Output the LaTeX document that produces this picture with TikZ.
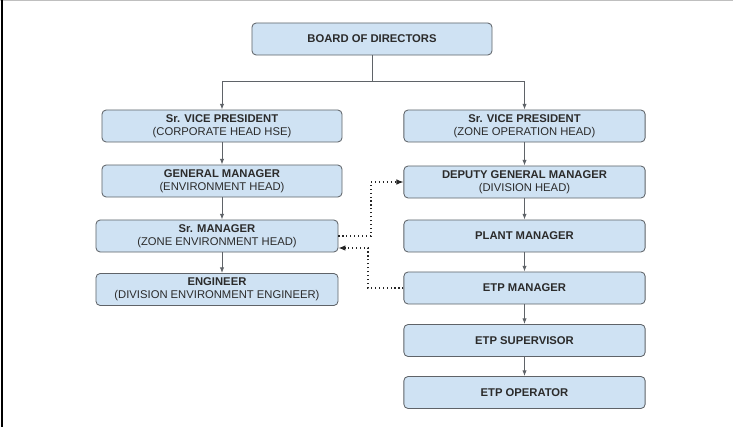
\documentclass[tikz,border=0pt]{standalone}
\usepackage{fontspec}
\setmainfont{Liberation Sans}
\usetikzlibrary{arrows.meta}
\definecolor{boxblue}{HTML}{CFE2F3}
\definecolor{boxline}{HTML}{5F6368}
\definecolor{textgray}{HTML}{2B2B2B}
\tikzset{
	orgbox/.style={draw=boxline, fill=boxblue, rounded corners=3pt, line width=0.6pt, minimum height=0.8cm, minimum width=6cm, text=textgray, align=center, font=\fontsize{8}{9.2}\selectfont, inner sep=1pt},
	orgline/.style={draw=boxline, line width=0.6pt, -{Latex[length=4pt,width=3pt]}},
	dotline/.style={black!85, line width=0.8pt, dash pattern=on 0.8pt off 2pt, -{Latex[length=5pt,width=4pt]}}
}

\begin{document}
\begin{tikzpicture}[x=0.025cm, y=-0.025cm]
			%%%%% START %%%%%
			\useasboundingbox (0, 0) rectangle (733, 427);
			\draw[line width=0.5pt, color=black!25] (0, 0.5) -- (733, 0.5);
			\draw[line width=1.6pt, color=black] (2, 0) -- (2, 427);
			
			\node[orgbox] (board) at (372, 39) {\textbf{BOARD OF DIRECTORS}};
			
			% left column
			\node[orgbox] (svpL) at (222, 126) {\textbf{Sr. VICE PRESIDENT}\\(CORPORATE HEAD HSE)};
			\node[orgbox] (gm) at (222, 181) {\textbf{GENERAL MANAGER}\\(ENVIRONMENT HEAD)};
			\node[orgbox, minimum width=6.05cm] (srm) at (217, 236) {\textbf{Sr. MANAGER}\\(ZONE ENVIRONMENT HEAD)};
			\node[orgbox, minimum width=6.05cm] (eng) at (217, 289.5) {\textbf{ENGINEER}\\(DIVISION ENVIRONMENT ENGINEER)};
			
			% right column
			\node[orgbox, minimum width=6.03cm] (svpR) at (524.5, 126) {\textbf{Sr. VICE PRESIDENT}\\(ZONE OPERATION HEAD)};
			\node[orgbox, minimum width=6.03cm] (dgm) at (524.5, 182) {\textbf{DEPUTY GENERAL MANAGER}\\(DIVISION HEAD)};
			\node[orgbox, minimum width=6.03cm] (plant) at (524.5, 236) {\textbf{PLANT MANAGER}};
			\node[orgbox, minimum width=6.03cm] (etpm) at (524.5, 288) {\textbf{ETP MANAGER}};
			\node[orgbox, minimum width=6.03cm] (sup) at (524.5, 340.5) {\textbf{ETP SUPERVISOR}};
			\node[orgbox, minimum width=6.03cm] (op) at (524.5, 392.5) {\textbf{ETP OPERATOR}};
			
			\coordinate (fork) at (372, 81);
			\draw[orgline] (board.south) -- (fork) -| (svpL.north);
			\draw[orgline] (fork) -| (svpR.north);
			
			\draw[orgline] (svpL.south) -- (gm.north);
			\draw[orgline] (gm.south) -- (gm.south |- srm.north);
			\draw[orgline] (gm.south |- srm.south) -- (gm.south |- eng.north);
			
			\draw[orgline] (svpR.south) -- (dgm.north);
			\draw[orgline] (dgm.south) -- (plant.north);
			\draw[orgline] (plant.south) -- (etpm.north);
			\draw[orgline] (etpm.south) -- (sup.north);
			\draw[orgline] (sup.south) -- (op.north);
			
			% dotted links
			\coordinate (dotA) at (371, 236);
			\coordinate (dotB) at (368, 288);
			\draw[dotline] (srm.east) -- (dotA) |- (dgm.west);
			\draw[dotline] (etpm.west) -- (dotB) |- ([yshift=-0.3cm]srm.east);
			%%%%% END %%%%%
\end{tikzpicture}
\end{document}
